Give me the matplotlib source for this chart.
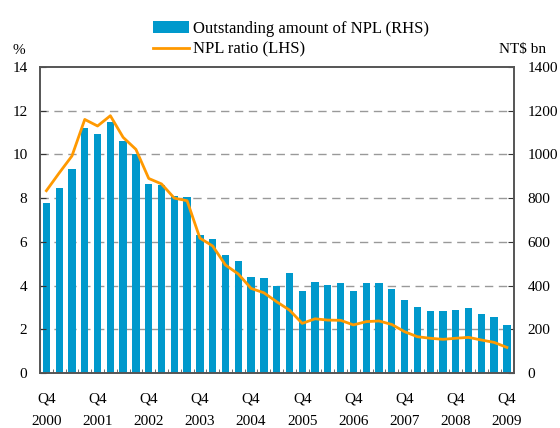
import matplotlib.pyplot as plt
import numpy as np

# Quarterly data, Q4 2000 .. Q4 2009
quarters = [f"Q{q}\n{y}" for y in range(2000, 2010) for q in (1, 2, 3, 4)][3:]
npl_amount = [778, 846, 933, 1120, 1093, 1150, 1060, 1000, 865, 858, 810, 805,
              631, 613, 540, 512, 439, 435, 398, 457, 375, 416, 403, 412,
              375, 412, 412, 384, 334, 302, 284, 284, 288, 297, 270, 256, 220]
npl_ratio = [8.34, 9.15, 9.93, 11.6, 11.3, 11.77, 10.78, 10.23, 8.9, 8.65, 8.0, 7.88,
             6.17, 5.81, 4.94, 4.53, 3.87, 3.67, 3.26, 2.88, 2.27, 2.48, 2.42, 2.41,
             2.2, 2.35, 2.38, 2.22, 1.89, 1.66, 1.59, 1.54, 1.59, 1.63, 1.51, 1.40, 1.17]

BAR_COLOR = "#0099cc"
LINE_COLOR = "#ff9900"

plt.rcParams["font.family"] = ["Liberation Serif", "DejaVu Serif"]
plt.rcParams["font.size"] = 11

fig = plt.figure(figsize=(5.6, 4.28), dpi=100)
ax = fig.add_axes([0.0714, 0.1285, 0.8464, 0.715])
ax2 = ax.twinx()

x = np.arange(len(npl_amount))
ax2.bar(x, npl_amount, width=0.57, color=BAR_COLOR, label="Outstanding amount of NPL (RHS)", zorder=2)
ax.plot(x, npl_ratio, color=LINE_COLOR, linewidth=2, label="NPL ratio (LHS)", zorder=3)

# line above the bars
ax.set_zorder(ax2.get_zorder() + 1)
ax.patch.set_visible(False)

ax.set_xlim(-0.43, 36.55)
ax.set_ylim(0, 14)
ax2.set_ylim(0, 1400)
ax.set_yticks(range(0, 15, 2))
ax2.set_yticks(range(0, 1401, 200))

for v in range(2, 14, 2):
    ax2.axhline(v * 100, color="#999999", linestyle=(0, (6, 4)), linewidth=1, zorder=1)

ax.set_xticks(x[::4])
ax.set_xticklabels([quarters[i] for i in x[::4]], fontsize=11, linespacing=2.0)
ax.set_xticks(np.arange(-0.5, 37, 1), minor=True)
ax.tick_params(axis="x", which="major", length=0, pad=14)
ax.tick_params(axis="x", which="minor", direction="in", length=3, color="#555555")
ax.tick_params(axis="y", direction="in", length=4, pad=9, labelsize=11, color="#333333")
ax2.tick_params(axis="y", direction="in", length=4, pad=10, labelsize=11, color="#333333")

for a in (ax, ax2):
    for s in a.spines.values():
        s.set_color("#555555")
        s.set_linewidth(1.2)

fig.text(0.023, 0.875, "%", fontsize=11)
fig.text(0.975, 0.875, "NT$ bn", fontsize=11, ha="right")

handles = ax2.get_legend_handles_labels()[0] + ax.get_legend_handles_labels()[0]
labels = ["Outstanding amount of NPL (RHS)", "NPL ratio (LHS)"]
fig.legend(handles, labels, loc="upper left", bbox_to_anchor=(0.255, 0.975), frameon=False,
           fontsize=12, handlelength=2.2, handleheight=0.7, labelspacing=0.3,
           handletextpad=0.2, borderaxespad=0.2)

fig.savefig("out.png", dpi=100)
